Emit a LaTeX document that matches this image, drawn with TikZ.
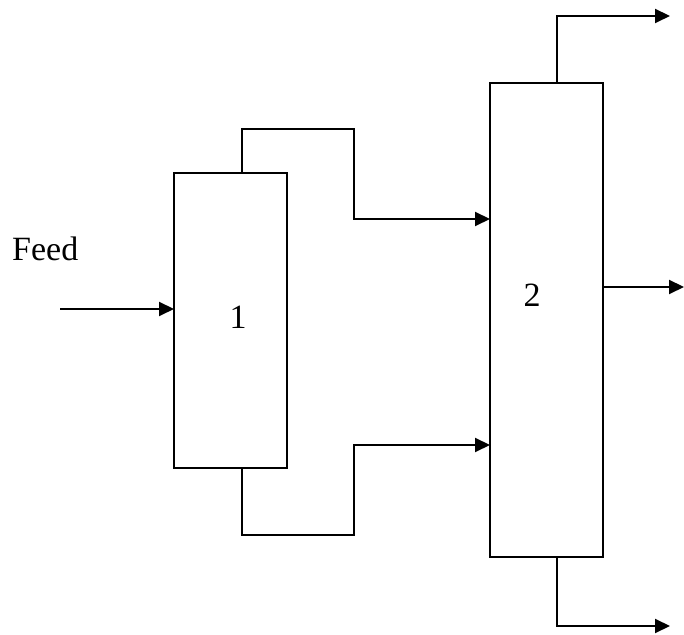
\documentclass[tikz,border=0pt]{standalone}
\usepackage{fontspec}
\setmainfont{Liberation Serif}
\usetikzlibrary{arrows.meta,calc}
\begin{document}
\begin{tikzpicture}[x=1pt,y=1pt,
  vessel/.style={draw,line width=2pt,minimum width=113pt,inner sep=0pt,outer sep=0pt},
  pipe/.style={line width=2pt},
  flow/.style={line width=2pt,-{Triangle[length=15pt,width=14pt]}},
  lbl/.style={font=\fontsize{34}{40}\selectfont,inner sep=0pt}]
\useasboundingbox (0,0) rectangle (684,634);
\node[vessel,minimum height=295pt] (b1) at (230.5,313.5) {};
\node[vessel,minimum height=474pt] (b2) at (546.5,314) {};
\node[lbl] (n1) at (238,317) {1};
\node[lbl] (n2) at (532,339) {2};
\node[lbl,anchor=base west] (feed) at (12,373) {Feed};
\coordinate (fs) at (60,325);
\draw[flow] (fs) -- (b1.west |- fs);
% top connector
\coordinate (t1) at (242,505);
\coordinate (t2) at (354,415);
\draw[flow] (b1.north -| t1) -- (t1) -| (t2) -- (b2.west |- t2);
% bottom connector
\coordinate (u1) at (242,99);
\coordinate (u2) at (354,189);
\draw[flow] (b1.south -| u1) -- (u1) -| (u2) -- (b2.west |- u2);
% outlets
\coordinate (o1) at (670,618);
\coordinate (o2) at (684,347);
\coordinate (o3) at (670,8);
\draw[flow] (b2.north -| 557,0) |- (o1);
\draw[flow] (b2.east |- o2) -- (o2);
\draw[flow] (b2.south -| 557,0) |- (o3);
\end{tikzpicture}
\end{document}
